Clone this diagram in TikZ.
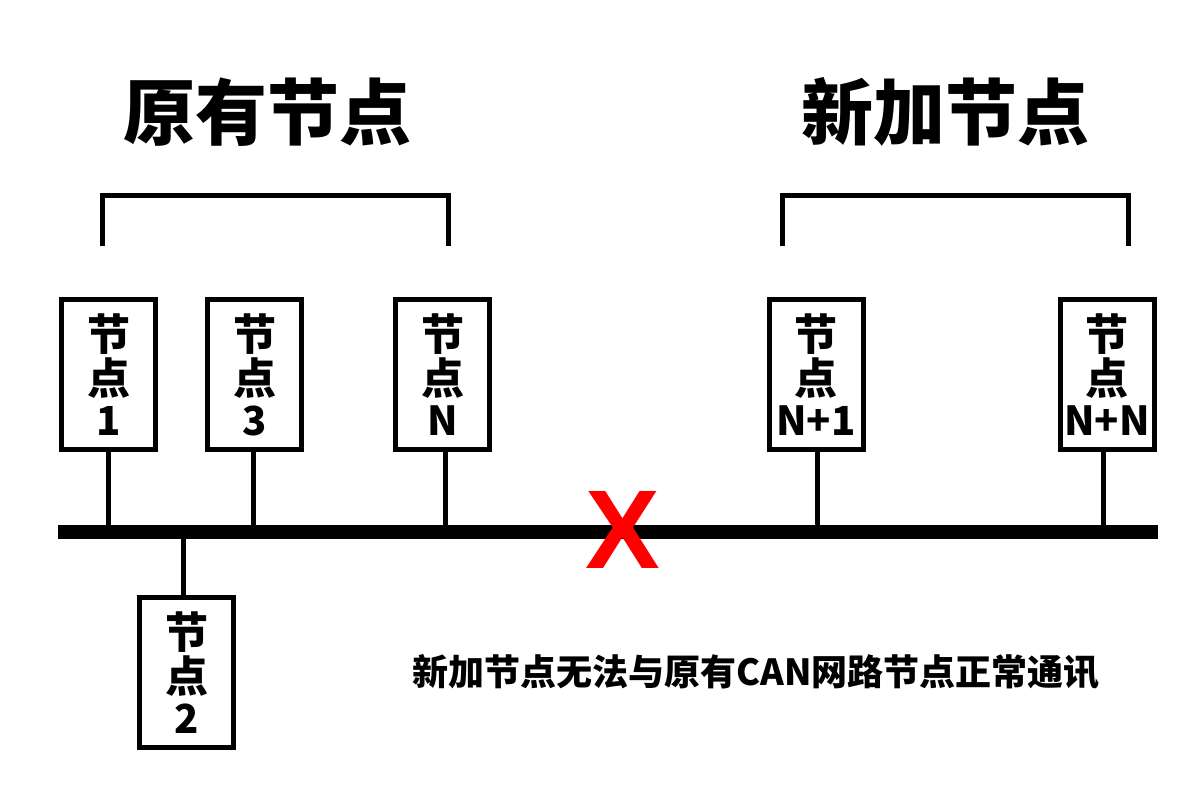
\documentclass[tikz,border=0pt]{standalone}
\usepackage{fontspec}
\newfontfamily\cjk{Noto Sans CJK SC}
\newfontfamily\lsans{Liberation Sans}
\newcommand{\boxlabel}[1]{节\\点\\[-3pt]{\fontsize{40}{40}\selectfont #1}}
\begin{document}
\begin{tikzpicture}[x=1pt,y=-1pt,
  nodebox/.style={draw=black,line width=5pt,fill=white,minimum width=94pt,minimum height=150pt,inner sep=0pt,align=center,
    font=\cjk\bfseries\fontsize{43}{44}\selectfont},
  stub/.style={line width=5pt},
  bracket/.style={line width=5pt},
  title/.style={font=\cjk\bfseries\fontsize{72}{72}\selectfont,inner sep=0pt}
]
\useasboundingbox[fill=white] (0,0) rectangle (1200,800);
% titles
\node[title] (t1) at (267,112) {原有节点};
\node[title] (t2) at (945,112) {新加节点};
% brackets
\coordinate (b1a) at (102,246); \coordinate (b1b) at (102,195);
\coordinate (b1c) at (448,195); \coordinate (b1d) at (448,246);
\draw[bracket] (b1a) -- (b1b) -- (b1c) -- (b1d);
\coordinate (b2a) at (782,246); \coordinate (b2b) at (782,195);
\coordinate (b2c) at (1128,195); \coordinate (b2d) at (1128,246);
\draw[bracket] (b2a) -- (b2b) -- (b2c) -- (b2d);
% bus
\coordinate (busL) at (58,532);
\coordinate (busR) at (1158,532);
% nodes
\node[nodebox] (n1) at (108.5,374.5) {\boxlabel{1}};
\node[nodebox] (n3) at (254.5,374.5) {\boxlabel{3}};
\node[nodebox] (nN) at (442.5,374.5) {\boxlabel{N}};
\node[nodebox] (nN1) at (816,374.5) {\boxlabel{N+1}};
\node[nodebox] (nNN) at (1107,374.5) {\boxlabel{N+N}};
\node[nodebox] (n2) at (186.5,672.5) {\boxlabel{2}};
% stubs
\draw[stub] (n1.south -| 108,0) -- (108,532);
\draw[stub] (n3.south -| 253,0) -- (253,532);
\draw[stub] (nN.south -| 445,0) -- (445,532);
\draw[stub] (nN1.south -| 817,0) -- (817,532);
\draw[stub] (nNN.south -| 1103,0) -- (1103,532);
\draw[stub] (n2.north -| 183,0) -- (183,532);
\draw[line width=14pt] (busL) -- (busR);
% cross
\node[text=red,font=\lsans\bfseries\fontsize{112}{112}\selectfont,inner sep=0pt] (x) at (623,530) {X};
% caption
\node[font=\cjk\bfseries\fontsize{36}{36}\selectfont,inner sep=0pt] (cap) at (756,672) {新加节点无法与原有CAN网路节点正常通讯};
\end{tikzpicture}
\end{document}
